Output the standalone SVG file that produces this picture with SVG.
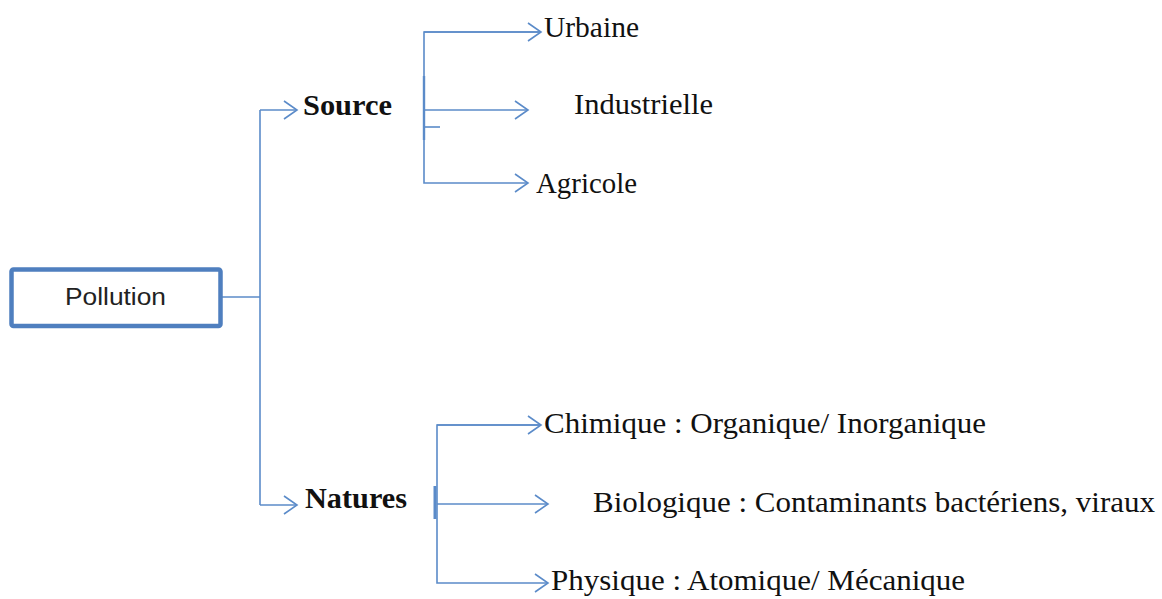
<svg xmlns="http://www.w3.org/2000/svg" width="1162" height="599" viewBox="0 0 1162 599">
<style>
.ln{fill:none;stroke:#5b8bc9;stroke-width:1.6}
.lbl{font-family:"Liberation Serif","Times New Roman",serif;font-size:29px;fill:#111}
.b{font-weight:bold}
</style>
<defs>
<marker id="ah" markerUnits="userSpaceOnUse" markerWidth="20" markerHeight="24" refX="15" refY="10" orient="auto" viewBox="0 0 20 20">
<path d="M2,1 L15,10 L2,19" fill="none" stroke="#5b8bc9" stroke-width="1.6"/>
</marker>
</defs>
<rect width="1162" height="599" fill="#fff"/>
<g id="connectors">
<path class="ln" d="M222,297 H260"/>
<path class="ln" d="M260,110 V505"/>
<path class="ln" d="M260,110 H297" marker-end="url(#ah)"/>
<path class="ln" d="M260,505 H297" marker-end="url(#ah)"/>
<path class="ln" d="M541,32 H424 V183 H528" marker-end="url(#ah)"/>
<path class="ln" d="M424,110 H528" marker-end="url(#ah)"/>
<path class="ln" d="M424,127 H440"/>
<path class="ln" d="M424,76 V140" style="stroke-width:2.4"/>
<path class="ln" d="M541,425 H437 V583 H548" marker-end="url(#ah)"/>
<path class="ln" d="M437,504 H548" marker-end="url(#ah)"/>
<path class="ln" d="M435,486 V519" style="stroke-width:3"/>
<path class="ln" d="M424,32 H541" marker-end="url(#ah)"/>
<path class="ln" d="M437,425 H541" marker-end="url(#ah)"/>
</g>
<g id="pollution">
<rect x="11.5" y="269.5" width="209" height="56.5" rx="2" fill="#fff" stroke="#4f7fbf" stroke-width="4.5"/>
<text x="65" y="305" font-family="'Liberation Sans',Arial,sans-serif" font-size="23" fill="#222" textLength="101" lengthAdjust="spacingAndGlyphs">Pollution</text>
</g>
<g id="source"><text class="lbl b" x="303" y="115" textLength="89" lengthAdjust="spacingAndGlyphs">Source</text></g>
<g id="natures"><text class="lbl b" x="305" y="508" textLength="102" lengthAdjust="spacingAndGlyphs">Natures</text></g>
<g id="urbaine"><text class="lbl" x="544" y="37" textLength="95" lengthAdjust="spacingAndGlyphs">Urbaine</text></g>
<g id="industrielle"><text class="lbl" x="574" y="114" textLength="139" lengthAdjust="spacingAndGlyphs">Industrielle</text></g>
<g id="agricole"><text class="lbl" x="536" y="193" textLength="101" lengthAdjust="spacingAndGlyphs">Agricole</text></g>
<g id="chimique"><text class="lbl" x="544" y="433" textLength="442" lengthAdjust="spacingAndGlyphs">Chimique : Organique/ Inorganique</text></g>
<g id="biologique"><text class="lbl" x="593" y="512" textLength="562" lengthAdjust="spacingAndGlyphs">Biologique : Contaminants bactériens, viraux</text></g>
<g id="physique"><text class="lbl" x="551" y="590" textLength="414" lengthAdjust="spacingAndGlyphs">Physique : Atomique/ Mécanique</text></g>
</svg>
